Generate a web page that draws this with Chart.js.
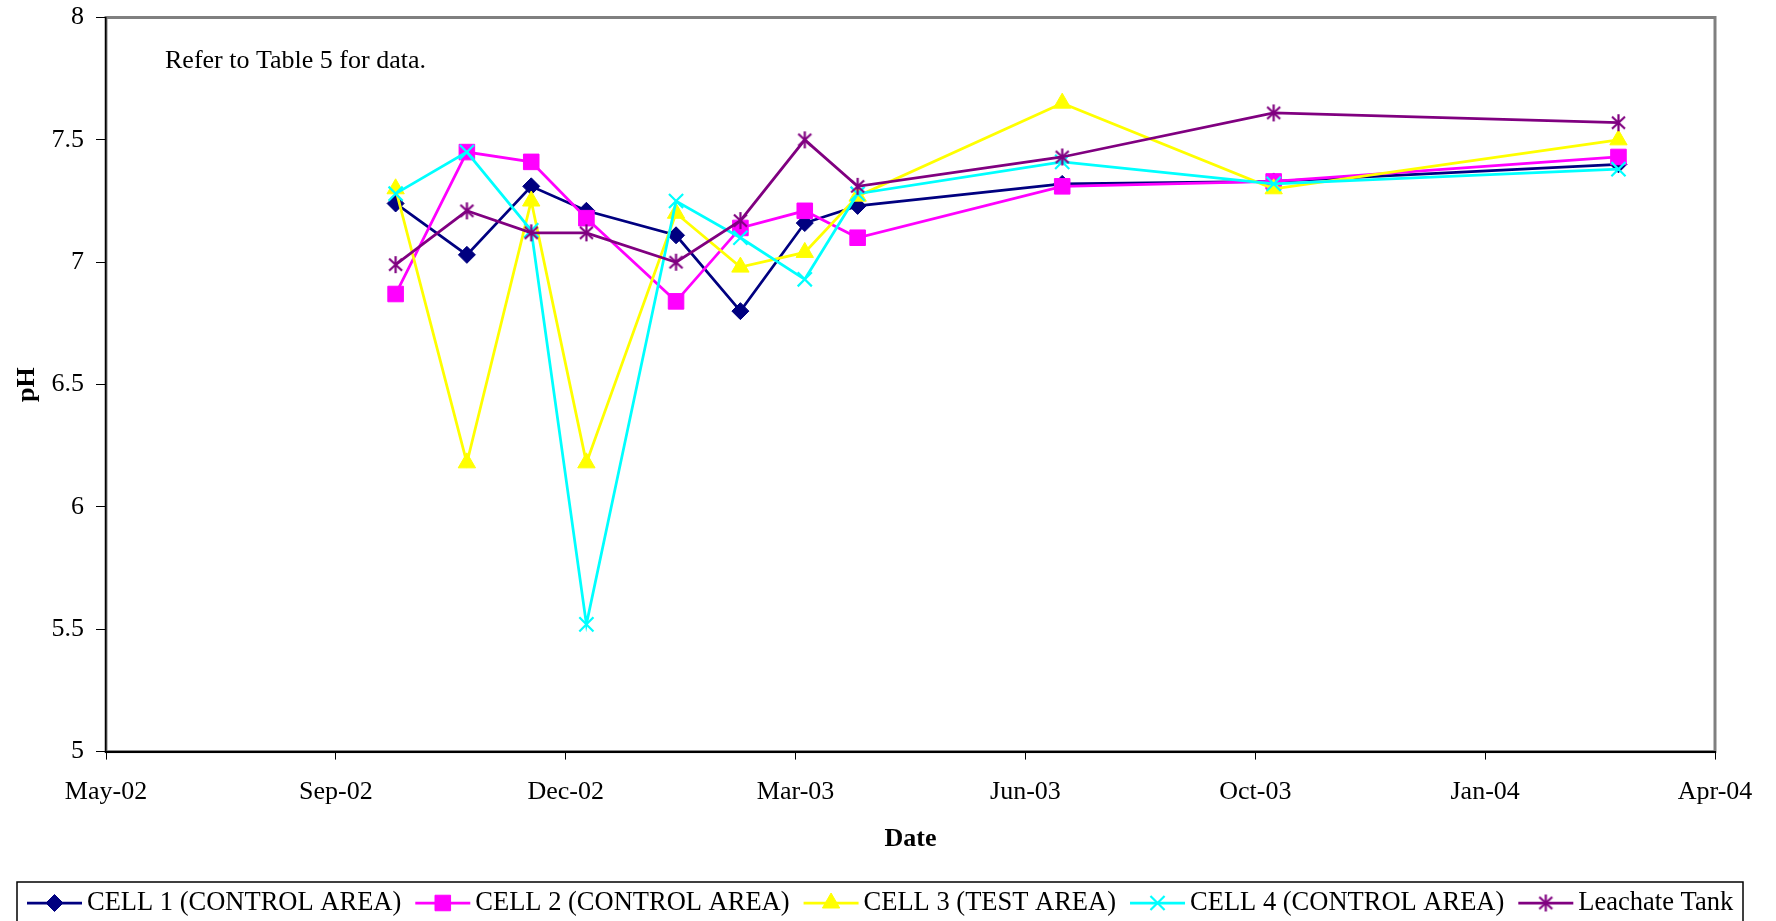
<!DOCTYPE html>
<html>
<head>
<meta charset="utf-8">
<title>pH by date</title>
<script src="https://cdn.jsdelivr.net/npm/chart.js@4.4.1/dist/chart.umd.min.js"></script>
<style>
  html, body { margin: 0; padding: 0; background: #fff; }
  #wrap { width: 1776px; height: 921px; }
</style>
</head>
<body>
<div id="wrap"><canvas id="chart" width="1776" height="921"></canvas></div>
<script>
// sampling dates (one per column of the data table)
const sampleDates = ['2002-09-27', '2002-10-28', '2002-11-25', '2002-12-19', '2003-01-27', '2003-02-24',
  '2003-03-24', '2003-04-16', '2003-07-14', '2003-10-14', '2004-03-12'];

// pH readings per series
const cell1 = [7.24, 7.03, 7.31, 7.21, 7.11, 6.80, 7.16, 7.23, 7.32, 7.33, 7.40];
const cell2 = [6.87, 7.45, 7.41, 7.18, 6.84, 7.14, 7.21, 7.10, 7.31, 7.33, 7.43];
const cell3 = [7.30, 6.18, 7.25, 6.18, 7.20, 6.98, 7.04, 7.27, 7.65, 7.30, 7.50];
const cell4 = [7.28, 7.45, 7.13, 5.52, 7.25, 7.10, 6.93, 7.28, 7.41, 7.32, 7.38];
const leachate = [6.99, 7.21, 7.12, 7.12, 7.00, 7.17, 7.50, 7.31, 7.43, 7.61, 7.57];

const seriesNames = ['CELL 1 (CONTROL AREA)', 'CELL 2 (CONTROL AREA)', 'CELL 3 (TEST AREA)',
  'CELL 4 (CONTROL AREA)', 'Leachate Tank'];

// x axis: date axis starting May-24-2002, a tick every 100 days
const xAxisStart = '2002-05-24';
const xAxisEnd = '2004-04-23';
const xStepDays = 100;
const xTickLabels = ['May-02', 'Sep-02', 'Dec-02', 'Mar-03', 'Jun-03', 'Oct-03', 'Jan-04', 'Apr-04'];

const yMin = 5;
const yMax = 8;
const yStep = 0.5;

const FONT = '"Liberation Serif", "Times New Roman", serif';

// day number (same counting as a spreadsheet date serial)
function toDays(s) {
  const p = s.split('-').map(Number);
  return Date.UTC(p[0], p[1] - 1, p[2]) / 86400000 + 25569;
}

function points(values) {
  return sampleDates.map((d, i) => ({ x: toDays(d), y: values[i] }));
}

// asterisk marker: vertical bar plus an X
function asterisk(color) {
  const c = document.createElement('canvas');
  c.width = 19;
  c.height = 19;
  const g = c.getContext('2d');
  g.strokeStyle = color;
  g.lineWidth = 2.2;
  g.beginPath();
  g.moveTo(9.5, 1); g.lineTo(9.5, 18);
  g.moveTo(3, 3.5); g.lineTo(16, 15.5);
  g.moveTo(16, 3.5); g.lineTo(3, 15.5);
  g.stroke();
  return c;
}

function series(label, values, color, style, radius, bw, order) {
  return {
    label,
    data: points(values),
    borderColor: color,
    backgroundColor: color,
    borderWidth: 2.75,
    pointStyle: style,
    pointRadius: radius,
    pointBackgroundColor: color,
    pointBorderColor: color,
    pointBorderWidth: bw,
    tension: 0,
    order
  };
}

const datasets = [
  series(seriesNames[0], cell1, '#000080', 'rectRot', 8.5, 1, 5),
  series(seriesNames[1], cell2, '#FF00FF', 'rect', 11, 1, 4),
  series(seriesNames[2], cell3, '#FFFF00', 'triangle', 10, 1, 3),
  series(seriesNames[3], cell4, '#00FFFF', 'crossRot', 10, 2.2, 2),
  series(seriesNames[4], leachate, '#800080', asterisk('#800080'), 9, 1, 1)
];

// white page + grey plot frame
const framePlugin = {
  id: 'frame',
  beforeDraw(chart) {
    const { ctx, chartArea: a } = chart;
    ctx.save();
    ctx.fillStyle = '#fff';
    ctx.fillRect(0, 0, chart.width, chart.height);
    ctx.strokeStyle = '#808080';
    ctx.lineWidth = 3;
    ctx.strokeRect(a.left, a.top, a.right - a.left, a.bottom - a.top);
    ctx.restore();
  }
};

// note text + boxed legend with line-and-marker keys
const notePlugin = {
  id: 'note',
  afterDraw(chart) {
    const ctx = chart.ctx;
    ctx.save();
    ctx.font = '26px ' + FONT;
    ctx.fillStyle = '#000';
    ctx.textBaseline = 'alphabetic';
    ctx.fillText('Refer to Table 5 for data.', 165, 68);

    ctx.strokeStyle = '#000';
    ctx.lineWidth = 1.5;
    ctx.strokeRect(17, 882, 1726, 60);

    ctx.font = '26.5px ' + FONT;
    const cy = 903;
    const lineLen = 55;
    let x = 27;
    chart.data.datasets.forEach(ds => {
      ctx.strokeStyle = ds.borderColor;
      ctx.lineWidth = 2.75;
      ctx.beginPath();
      ctx.moveTo(x, cy);
      ctx.lineTo(x + lineLen, cy);
      ctx.stroke();
      ctx.fillStyle = ds.pointBackgroundColor;
      ctx.strokeStyle = ds.pointBorderColor;
      ctx.lineWidth = ds.pointBorderWidth;
      Chart.helpers.drawPoint(ctx, {
        pointStyle: ds.pointStyle,
        radius: ds.pointRadius,
        rotation: 0,
        borderWidth: ds.pointBorderWidth
      }, x + lineLen / 2, cy);
      ctx.fillStyle = '#000';
      ctx.textBaseline = 'middle';
      ctx.textAlign = 'left';
      const tx = x + lineLen + 5;
      ctx.fillText(ds.label, tx, cy);
      x = tx + ctx.measureText(ds.label).width + 14;
    });
    ctx.restore();
  }
};

Chart.defaults.font.family = FONT;
Chart.defaults.font.size = 26;
Chart.defaults.color = '#000';

new Chart(document.getElementById('chart'), {
  type: 'line',
  data: { datasets },
  options: {
    responsive: false,
    animation: false,
    devicePixelRatio: 1,
    layout: { autoPadding: false, padding: { top: 17.5, right: 61, bottom: 66.4, left: 0 } },
    plugins: {
      legend: { display: false },
      tooltip: { enabled: false }
    },
    scales: {
      x: {
        type: 'linear',
        min: toDays(xAxisStart),
        max: toDays(xAxisEnd),
        border: { color: '#000', width: 2 },
        grid: { drawOnChartArea: false, drawTicks: true, tickLength: 8, color: '#000' },
        ticks: {
          stepSize: xStepDays,
          padding: 17,
          maxRotation: 0,
          autoSkip: false,
          callback: (v, i) => xTickLabels[i]
        },
        title: {
          display: true,
          text: 'Date',
          font: { weight: 'bold', size: 26 },
          padding: { top: 0, bottom: 0 }
        },
        afterFit(scale) { scale.height = 103; }
      },
      y: {
        min: yMin,
        max: yMax,
        border: { color: '#000', width: 1.5 },
        grid: { drawOnChartArea: false, drawTicks: true, tickLength: 10, color: '#000' },
        ticks: { stepSize: yStep, padding: 12, callback: v => String(Number(v)) },
        title: {
          display: true,
          text: 'pH',
          font: { weight: 'bold', size: 26 },
          padding: { top: 12, bottom: 0 }
        },
        afterFit(scale) {
          scale.width = 106;
          scale.paddingTop = 0;
          scale.paddingBottom = 0;
        }
      }
    }
  },
  plugins: [framePlugin, notePlugin]
});
</script>
</body>
</html>
